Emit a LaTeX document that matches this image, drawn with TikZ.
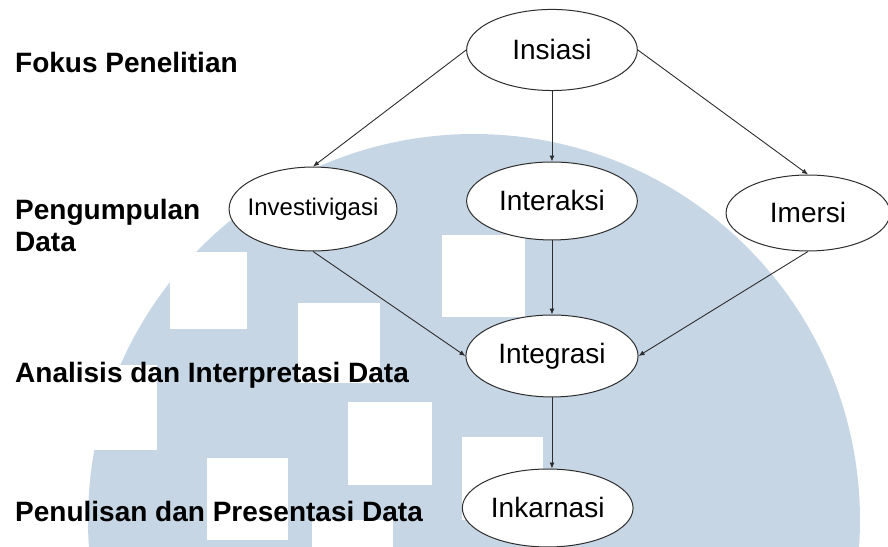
\documentclass[tikz,border=0pt]{standalone}
\usepackage{fontspec}
\setmainfont{Liberation Sans}
\usetikzlibrary{shapes.geometric,arrows.meta}
\definecolor{watermark}{RGB}{198,214,228}
\definecolor{ink}{RGB}{45,45,45}
\pgfdeclarelayer{backlayer}
\pgfdeclarelayer{edgelayer}
\pgfdeclarelayer{nodelayer}
\pgfsetlayers{backlayer,edgelayer,nodelayer,main}
\tikzstyle{flow}=[draw=ink, line width=0.9pt, -{Latex[length=6pt,width=5pt]}]
\tikzstyle{stage}=[ellipse, fill=white, draw=ink, line width=1pt, inner sep=0pt, minimum width=6cm, minimum height=2.8cm, font=\fontsize{28}{32}\selectfont]
\tikzstyle{phase}=[anchor=base west, inner sep=0pt, align=left, font=\fontsize{28}{32}\selectfont\bfseries]
\tikzstyle{patch}=[fill=white]

\begin{document}
\begin{tikzpicture}
				\useasboundingbox (0, 0) rectangle (31.21, 19.225);
				\begin{pgfonlayer}{backlayer}
					\fill [watermark] (16.659, 0.949) circle (13.566);
					\fill [style=patch] (5.975, 7.662) rectangle (8.681, 10.368);
					\fill [style=patch] (2.812, 3.409) rectangle (5.518, 6.397);
					\fill [style=patch] (7.275, 0.246) rectangle (10.122, 3.128);
					\fill [style=patch] (10.474, 5.764) rectangle (13.355, 8.576);
					\fill [style=patch] (12.231, 2.179) rectangle (15.183, 5.096);
					\fill [style=patch] (10.966, -1.863) rectangle (13.812, 0.949);
					\fill [style=patch] (15.535, 8.084) rectangle (18.452, 10.966);
					\fill [style=patch] (16.237, 0.949) rectangle (19.084, 3.866);
				\end{pgfonlayer}
				\begin{pgfonlayer}{nodelayer}
					\node [style=stage, minimum height=2.85cm] (1) at (19.4, 17.468) {Insiasi};
					\node [style=stage, minimum width=5.9cm, minimum height=2.95cm, inner xsep=-12pt, font=\fontsize{24}{28}\selectfont] (2) at (11.001, 11.879) {Investivigasi};
					\node [style=stage, minimum height=2.74cm] (3) at (19.4, 12.161) {Interaksi};
					\node [style=stage, minimum width=5.76cm, minimum height=2.67cm] (4) at (28.398, 11.739) {Imersi};
					\node [style=stage, minimum width=6.05cm, minimum height=2.88cm] (5) at (19.4, 6.713) {Integrasi};
					\node [style=stage, minimum height=2.74cm] (6) at (19.25, 1.371) {Inkarnasi};
					\node [style=phase] (7) at (0.527, 16.694) {Fokus Penelitian};
					\node [style=phase] (8) at (0.527, 10.368) {Pengumpulan\\Data};
					\node [style=phase] (9) at (0.527, 5.799) {Analisis dan Interpretasi Data};
					\node [style=phase] (10) at (0.527, 0.879) {Penulisan dan Presentasi Data};
				\end{pgfonlayer}
				\begin{pgfonlayer}{edgelayer}
					\draw [style=flow] (1.west) to (2.north);
					\draw [style=flow] (1.south) to (3.north);
					\draw [style=flow] (1.east) to (4.north);
					\draw [style=flow] (2.south) to (5.west);
					\draw [style=flow] (3.south) to (5.north);
					\draw [style=flow] (4.south) to (5.east);
					\draw [style=flow] (5.south) to (5.south |- 6.north);
				\end{pgfonlayer}
			\end{tikzpicture}
\end{document}
